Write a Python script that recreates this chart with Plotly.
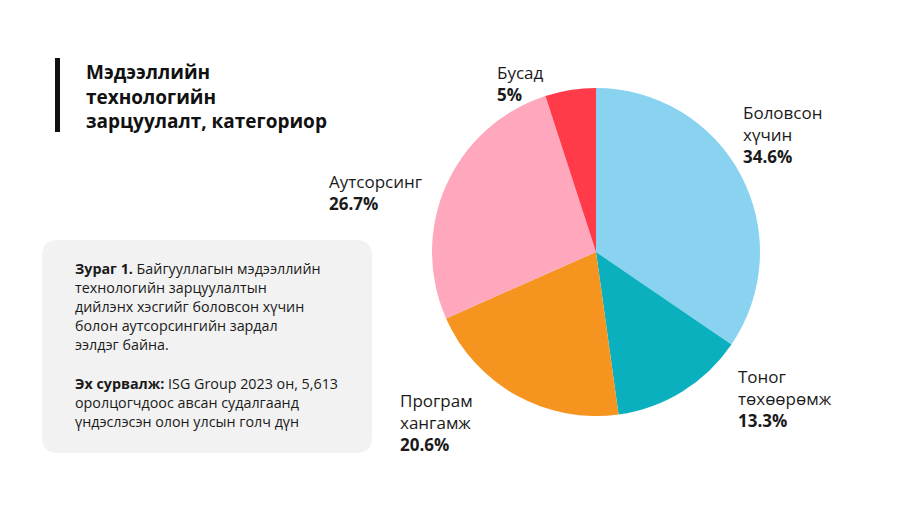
import plotly.graph_objects as go

categories = ["Боловсон хүчин", "Тоног төхөөрөмж", "Програм хангамж", "Аутсорсинг", "Бусад"]
values = [34.6, 13.3, 20.6, 26.7, 5]
label_lines = [["Боловсон", "хүчин"], ["Тоног", "төхөөрөмж"], ["Програм", "хангамж"], ["Аутсорсинг"], ["Бусад"]]
pct_text = ["34.6%", "13.3%", "20.6%", "26.7%", "5%"]
colors = ["#8AD3F0", "#0AB0BE", "#F5941F", "#FFA8BD", "#FF3B4A"]

W, H = 900, 506
FONT = "Open Sans"

def px(x):
    return x / W

def py(y):
    return 1 - y / H

fig = go.Figure()
fig.add_trace(go.Pie(
    labels=categories, values=values, sort=False, direction="clockwise",
    rotation=0, marker=dict(colors=colors, line=dict(width=0)),
    textinfo="none", hoverinfo="label+percent", showlegend=False,
    domain=dict(x=[px(432), px(760)], y=[py(416), py(88)]),
))

# label positions: left x, centre y of first line, centre y of percentage line
label_pos = [(741, 113, 156), (736, 378, 418), (398, 402, 442), (327, 181, 203), (495, 72, 95)]
annotations = []
for lines, pct, (x, y_top, y_pct) in zip(label_lines, pct_text, label_pos):
    text = "<br>".join(lines) + "<br><b>" + pct + "</b>"
    annotations.append(dict(x=px(x), y=py((y_top + y_pct) / 2), xref="paper", yref="paper",
                            xanchor="left", yanchor="middle", text=text, showarrow=False, align="left",
                            font=dict(family=FONT, size=17, color="#1a1a1a")))

# title
title_lines = ["Мэдээллийн", "технологийн", "зарцуулалт, категориор"]
annotations.append(dict(x=px(84), y=py(96), xref="paper", yref="paper", xanchor="left", yanchor="middle",
                        text="<br>".join("<b>" + t + "</b>" for t in title_lines), showarrow=False, align="left",
                        font=dict(family=FONT, size=19, color="#111111")))

# note box text
note_lines = ["<b>Зураг 1.</b> Байгууллагын мэдээллийн", "технологийн зарцуулалтын",
              "дийлэнх хэсгийг боловсон хүчин", "болон аутсорсингийн зардал", "ээлдэг байна.",
              "", "<b>Эх сурвалж:</b> ISG Group 2023 он, 5,613",
              "оролцогчдоос авсан судалгаанд", "үндэслэсэн олон улсын голч дүн"]
for i, t in enumerate(note_lines):
    if not t:
        continue
    annotations.append(dict(x=px(73), y=py(268 + i * 19.2), xref="paper", yref="paper", xanchor="left", yanchor="middle",
                            text=t, showarrow=False, align="left",
                            font=dict(family=FONT, size=14.3, color="#1a1a1a")))

def rounded_rect(x0, y0, x1, y1, r):
    X0, X1 = px(x0), px(x1)
    Y0, Y1 = py(y0), py(y1)
    rx, ry = r / W, r / H
    return (f"M {X0+rx},{Y0} L {X1-rx},{Y0} Q {X1},{Y0} {X1},{Y0-ry} "
            f"L {X1},{Y1+ry} Q {X1},{Y1} {X1-rx},{Y1} L {X0+rx},{Y1} Q {X0},{Y1} {X0},{Y1+ry} "
            f"L {X0},{Y0-ry} Q {X0},{Y0} {X0+rx},{Y0} Z")

shapes = [
    dict(type="path", xref="paper", yref="paper", path=rounded_rect(42, 240, 372, 453, 16),
         fillcolor="#F2F2F2", line=dict(width=0), layer="below"),
    dict(type="rect", xref="paper", yref="paper", x0=px(55), x1=px(60), y0=py(132), y1=py(58),
         fillcolor="#111111", line=dict(width=0)),
]

fig.update_layout(width=W, height=H, margin=dict(l=0, r=0, t=0, b=0),
                  paper_bgcolor="white", plot_bgcolor="white",
                  annotations=annotations, shapes=shapes, font=dict(family=FONT))
fig.write_html("out.html")
